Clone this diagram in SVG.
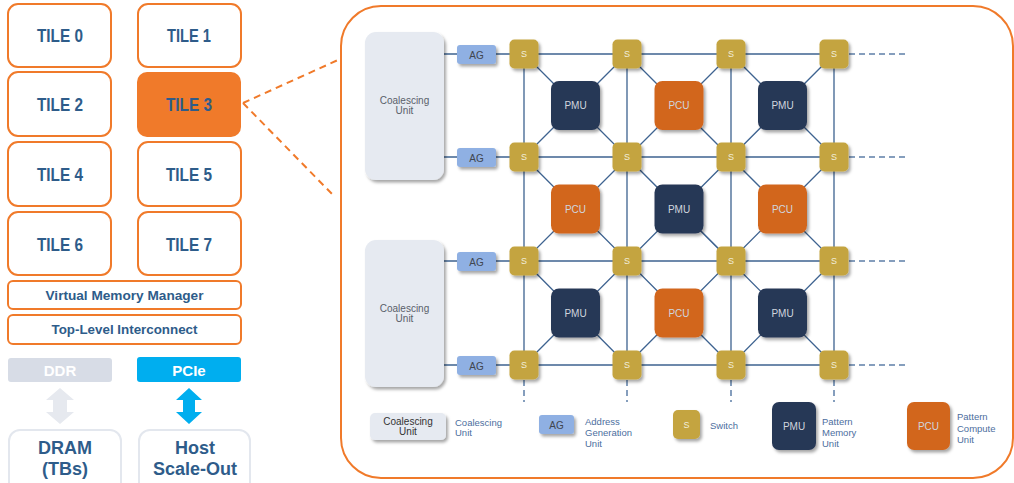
<svg xmlns="http://www.w3.org/2000/svg" width="1014" height="483" viewBox="0 0 1014 483">
<defs>
<filter id="sh" x="-20%" y="-20%" width="150%" height="150%">
<feDropShadow dx="2" dy="2.5" stdDeviation="1.5" flood-color="#000" flood-opacity="0.35"/>
</filter>
<style>
.tile{fill:#fff;stroke:#F07A2A;stroke-width:2}
.tt{font-family:"Liberation Sans",Arial,sans-serif;font-weight:bold;fill:#2E5C8A;text-anchor:middle}
.bar{fill:#fff;stroke:#F07A2A;stroke-width:2}
.mem{fill:#fff;stroke:#E3E7EE;stroke-width:2}
.sw{fill:#C4A43F;filter:url(#sh)}
.pmu{fill:#283856;filter:url(#sh)}
.pcu{fill:#D2661F;filter:url(#sh)}
.ag{fill:#8FB0E3;filter:url(#sh)}
.cu{fill:#E6EAF1;filter:url(#sh)}
.st{font-family:"Liberation Sans",Arial,sans-serif;font-size:9px;fill:#F2EEDC;text-anchor:middle}
.ut{font-family:"Liberation Sans",Arial,sans-serif;font-size:10px;fill:#D0D5DE;text-anchor:middle}
.at{font-family:"Liberation Sans",Arial,sans-serif;font-size:10px;fill:#3F4650;text-anchor:middle}
.ct{font-family:"Liberation Sans",Arial,sans-serif;font-size:10px;fill:#5A606A;text-anchor:middle}
.lt{font-family:"Liberation Sans",Arial,sans-serif;font-size:9.5px;fill:#4C6E9E}
.g{stroke:#3E6390;stroke-width:1.3;fill:none}
.gd{stroke:#5D7FA8;stroke-width:1.5;fill:none;stroke-dasharray:6 4}
.od{stroke:#F07A2A;stroke-width:2;fill:none;stroke-dasharray:7 5}
</style>
</defs>

<!-- left column tiles -->
<g id="tile0"><rect class="tile" x="8" y="4" width="103" height="63" rx="10"/><text class="tt" x="60" y="42" font-size="18" textLength="46" lengthAdjust="spacingAndGlyphs">TILE 0</text></g>
<g id="tile1"><rect class="tile" x="138" y="4" width="103" height="63" rx="10"/><text class="tt" x="189" y="42" font-size="18" textLength="44" lengthAdjust="spacingAndGlyphs">TILE 1</text></g>
<g id="tile2"><rect class="tile" x="8" y="72" width="103" height="64" rx="10"/><text class="tt" x="60" y="111" font-size="18" textLength="46" lengthAdjust="spacingAndGlyphs">TILE 2</text></g>
<g id="tile3"><rect x="137" y="72" width="104" height="65" rx="10" fill="#F07A2A"/><text class="tt" x="189" y="111" font-size="18" textLength="46" lengthAdjust="spacingAndGlyphs">TILE 3</text></g>
<g id="tile4"><rect class="tile" x="8" y="142" width="103" height="64" rx="10"/><text class="tt" x="60" y="181" font-size="18" textLength="46" lengthAdjust="spacingAndGlyphs">TILE 4</text></g>
<g id="tile5"><rect class="tile" x="138" y="142" width="103" height="64" rx="10"/><text class="tt" x="189" y="181" font-size="18" textLength="46" lengthAdjust="spacingAndGlyphs">TILE 5</text></g>
<g id="tile6"><rect class="tile" x="8" y="212" width="103" height="63" rx="10"/><text class="tt" x="60" y="251" font-size="18" textLength="46" lengthAdjust="spacingAndGlyphs">TILE 6</text></g>
<g id="tile7"><rect class="tile" x="138" y="212" width="103" height="63" rx="10"/><text class="tt" x="189" y="251" font-size="18" textLength="46" lengthAdjust="spacingAndGlyphs">TILE 7</text></g>

<g id="vmm"><rect class="bar" x="8" y="281" width="233" height="28" rx="5"/><text class="tt" x="124.5" y="300" font-size="12" textLength="158" lengthAdjust="spacingAndGlyphs">Virtual Memory Manager</text></g>
<g id="tli"><rect class="bar" x="8" y="315" width="233" height="29" rx="5"/><text class="tt" x="124.5" y="334" font-size="12" textLength="146" lengthAdjust="spacingAndGlyphs">Top-Level Interconnect</text></g>

<g id="ddr"><rect x="8" y="358" width="104" height="24" rx="3" fill="#D7DCE6"/><text class="tt" x="60" y="376" font-size="15" fill="#fff" style="fill:#fff">DDR</text></g>
<g id="pcie"><rect x="137" y="357" width="104" height="25" rx="3" fill="#00AEEF"/><text class="tt" x="189" y="376" font-size="15" style="fill:#fff">PCIe</text></g>

<g id="dram"><rect class="mem" x="9" y="430" width="112" height="65" rx="11"/><text class="tt" x="65" y="454" font-size="18">DRAM</text><text class="tt" x="65" y="475" font-size="18">(TBs)</text></g>
<g id="host"><rect class="mem" x="139" y="430" width="111" height="65" rx="11"/><text class="tt" x="195" y="454" font-size="18">Host</text><text class="tt" x="195" y="475" font-size="18">Scale-Out</text></g>

<!-- big tile detail box -->
<g id="tile-detail"><rect x="341" y="6" width="672" height="472" rx="40" fill="#fff" stroke="#F07A2A" stroke-width="2"/></g>

<g id="connectors">
<!-- tile3 zoom lines -->
<path class="od" d="M243 103 L338 60 M243 103 L335 197"/>
<!-- DDR / PCIe arrows -->
<path d="M60 388 L74 400 L67 400 L67 412 L74 412 L60 424 L46 412 L53 412 L53 400 L46 400 Z" fill="#E6E9EF"/>
<path d="M189 388 L202 400 L195 400 L195 412 L202 412 L189 424 L176 412 L183 412 L183 400 L176 400 Z" fill="#00AEEF"/>
<!-- grid horizontals -->
<path class="g" d="M444 54 H834 M444 157 H834 M444 261 H834 M444 365 H834"/>
<!-- grid verticals -->
<path class="g" d="M524 54 V365 M627 54 V365 M731 54 V365 M834 54 V365"/>
<!-- diagonals -->
<path class="g" d="M524 54 L731 261 M627 54 L834 261 M524 157 L731 365 M627 157 L834 365 M524 261 L627 365 M731 54 L834 157
M627 54 L524 157 M731 54 L524 261 M834 54 L524 365 M834 157 L627 365 M834 261 L731 365"/>
<!-- dashed extensions -->
<path class="gd" d="M849 54 H907 M849 157 H907 M849 261 H907 M849 365 H907"/>
<path class="gd" d="M524 380 V402 M627 380 V402 M731 380 V402 M834 380 V402"/>
</g>

<!-- coalescing units -->
<g id="cu1"><rect class="cu" x="365" y="32" width="79" height="148" rx="11"/><text class="ct" x="404.5" y="104">Coalescing</text><text class="ct" x="404.5" y="114">Unit</text></g>
<g id="cu2"><rect class="cu" x="365" y="240" width="79" height="147" rx="11"/><text class="ct" x="404.5" y="312">Coalescing</text><text class="ct" x="404.5" y="322">Unit</text></g>

<!-- AGs -->
<g id="ag1"><rect class="ag" x="457" y="45" width="39" height="19" rx="3"/><text class="at" x="476.5" y="58.5">AG</text></g>
<g id="ag2"><rect class="ag" x="457" y="148" width="39" height="19" rx="3"/><text class="at" x="476.5" y="161.5">AG</text></g>
<g id="ag3"><rect class="ag" x="457" y="252" width="39" height="19" rx="3"/><text class="at" x="476.5" y="265.5">AG</text></g>
<g id="ag4"><rect class="ag" x="457" y="356" width="39" height="19" rx="3"/><text class="at" x="476.5" y="369.5">AG</text></g>

<!-- units -->
<g id="pmu-0-0"><rect class="pmu" x="551" y="81" width="49" height="49" rx="8"/><text class="ut" x="575.5" y="109">PMU</text></g>
<g id="pcu-0-1"><rect class="pcu" x="654.5" y="81" width="49" height="49" rx="8"/><text class="ut" x="679" y="109">PCU</text></g>
<g id="pmu-0-2"><rect class="pmu" x="758" y="81" width="49" height="49" rx="8"/><text class="ut" x="782.5" y="109">PMU</text></g>
<g id="pcu-1-0"><rect class="pcu" x="551" y="184.5" width="49" height="49" rx="8"/><text class="ut" x="575.5" y="212.5">PCU</text></g>
<g id="pmu-1-1"><rect class="pmu" x="654.5" y="184.5" width="49" height="49" rx="8"/><text class="ut" x="679" y="212.5">PMU</text></g>
<g id="pcu-1-2"><rect class="pcu" x="758" y="184.5" width="49" height="49" rx="8"/><text class="ut" x="782.5" y="212.5">PCU</text></g>
<g id="pmu-2-0"><rect class="pmu" x="551" y="288.5" width="49" height="49" rx="8"/><text class="ut" x="575.5" y="316.5">PMU</text></g>
<g id="pcu-2-1"><rect class="pcu" x="654.5" y="288.5" width="49" height="49" rx="8"/><text class="ut" x="679" y="316.5">PCU</text></g>
<g id="pmu-2-2"><rect class="pmu" x="758" y="288.5" width="49" height="49" rx="8"/><text class="ut" x="782.5" y="316.5">PMU</text></g>

<!-- switches -->
<g id="s-0-0"><rect class="sw" x="509.5" y="39.5" width="29" height="29" rx="5"/><text class="st" x="524" y="57">S</text></g>
<g id="s-0-1"><rect class="sw" x="612.5" y="39.5" width="29" height="29" rx="5"/><text class="st" x="627" y="57">S</text></g>
<g id="s-0-2"><rect class="sw" x="716.5" y="39.5" width="29" height="29" rx="5"/><text class="st" x="731" y="57">S</text></g>
<g id="s-0-3"><rect class="sw" x="819.5" y="39.5" width="29" height="29" rx="5"/><text class="st" x="834" y="57">S</text></g>
<g id="s-1-0"><rect class="sw" x="509.5" y="142.5" width="29" height="29" rx="5"/><text class="st" x="524" y="160">S</text></g>
<g id="s-1-1"><rect class="sw" x="612.5" y="142.5" width="29" height="29" rx="5"/><text class="st" x="627" y="160">S</text></g>
<g id="s-1-2"><rect class="sw" x="716.5" y="142.5" width="29" height="29" rx="5"/><text class="st" x="731" y="160">S</text></g>
<g id="s-1-3"><rect class="sw" x="819.5" y="142.5" width="29" height="29" rx="5"/><text class="st" x="834" y="160">S</text></g>
<g id="s-2-0"><rect class="sw" x="509.5" y="246.5" width="29" height="29" rx="5"/><text class="st" x="524" y="264">S</text></g>
<g id="s-2-1"><rect class="sw" x="612.5" y="246.5" width="29" height="29" rx="5"/><text class="st" x="627" y="264">S</text></g>
<g id="s-2-2"><rect class="sw" x="716.5" y="246.5" width="29" height="29" rx="5"/><text class="st" x="731" y="264">S</text></g>
<g id="s-2-3"><rect class="sw" x="819.5" y="246.5" width="29" height="29" rx="5"/><text class="st" x="834" y="264">S</text></g>
<g id="s-3-0"><rect class="sw" x="509.5" y="350.5" width="29" height="29" rx="5"/><text class="st" x="524" y="368">S</text></g>
<g id="s-3-1"><rect class="sw" x="612.5" y="350.5" width="29" height="29" rx="5"/><text class="st" x="627" y="368">S</text></g>
<g id="s-3-2"><rect class="sw" x="716.5" y="350.5" width="29" height="29" rx="5"/><text class="st" x="731" y="368">S</text></g>
<g id="s-3-3"><rect class="sw" x="819.5" y="350.5" width="29" height="29" rx="5"/><text class="st" x="834" y="368">S</text></g>

<!-- legend -->
<g id="legend-cu"><rect class="cu" x="370" y="413" width="76" height="27" rx="5"/><text class="at" x="408" y="424.5" style="fill:#333">Coalescing</text><text class="at" x="408" y="434.5" style="fill:#333">Unit</text><text class="lt" x="455" y="426">Coalescing</text><text class="lt" x="455" y="436">Unit</text></g>
<g id="legend-ag"><rect class="ag" x="539" y="415" width="35" height="19" rx="3"/><text class="at" x="556.5" y="428.5">AG</text><text class="lt" x="585" y="425">Address</text><text class="lt" x="585" y="436">Generation</text><text class="lt" x="585" y="447">Unit</text></g>
<g id="legend-s"><rect class="sw" x="673" y="410" width="27" height="29" rx="5"/><text class="st" x="686.5" y="428">S</text><text class="lt" x="710" y="429">Switch</text></g>
<g id="legend-pmu"><rect class="pmu" x="772" y="402" width="44" height="48" rx="7"/><text class="ut" x="794" y="429.5">PMU</text><text class="lt" x="822" y="425">Pattern</text><text class="lt" x="822" y="436">Memory</text><text class="lt" x="822" y="447">Unit</text></g>
<g id="legend-pcu"><rect class="pcu" x="907" y="402" width="43" height="48" rx="7"/><text class="ut" x="928.5" y="429.5">PCU</text><text class="lt" x="957" y="420">Pattern</text><text class="lt" x="957" y="432">Compute</text><text class="lt" x="957" y="443">Unit</text></g>
</svg>
